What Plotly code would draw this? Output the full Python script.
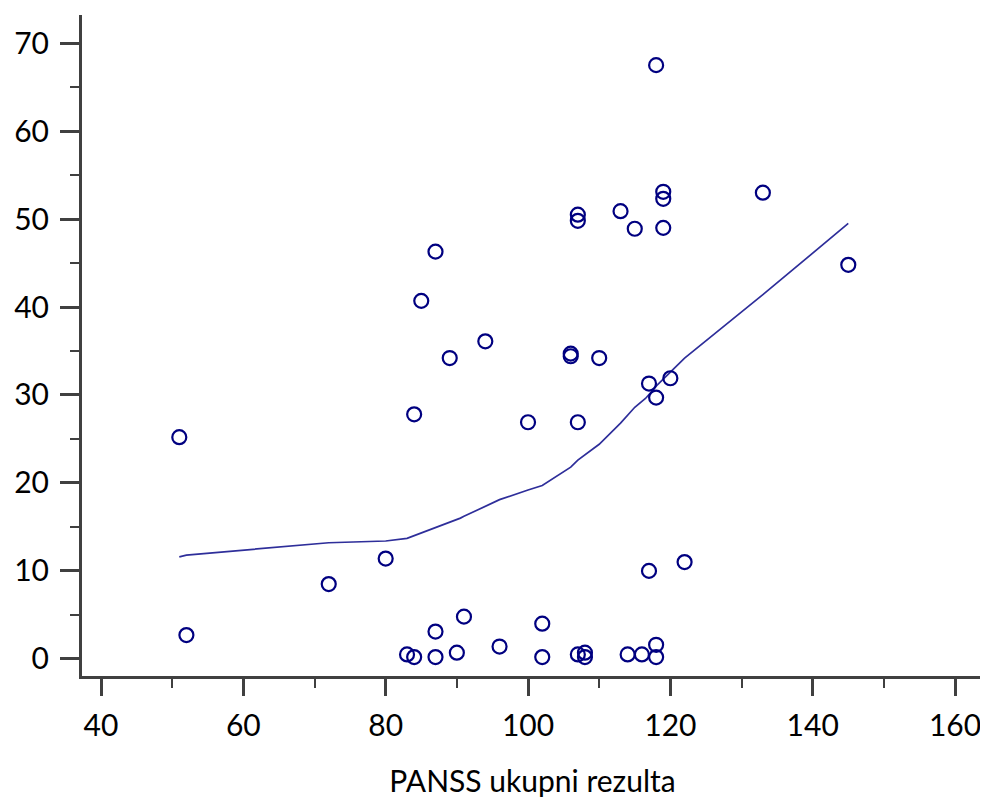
import plotly.graph_objects as go

# Scatter data (PANSS total score vs. outcome)
panss_x = [51, 52, 72, 80, 84, 85, 87, 89, 94, 100, 106, 106, 107, 107, 110, 107,
           113, 115, 117, 118, 119, 119, 119, 120, 118, 117, 122, 133, 145,
           83, 84, 87, 87, 90, 91, 96, 102, 102, 107, 108, 108, 114, 116, 118, 118]
score_y = [25.2, 2.7, 8.5, 11.4, 27.8, 40.7, 46.3, 34.2, 36.1, 26.9, 34.7, 34.4, 50.5, 49.8, 34.2, 26.9,
           50.9, 48.9, 31.3, 67.5, 53.1, 52.3, 49.0, 31.9, 29.7, 10.0, 11.0, 53.0, 44.8,
           0.5, 0.2, 3.1, 0.2, 0.7, 4.8, 1.4, 4.0, 0.2, 0.5, 0.7, 0.2, 0.5, 0.5, 1.6, 0.2]

# Smoothed (LOESS) fit line
fit_x = [51.0, 52.0, 72.0, 80.0, 83.0, 84.0, 87.0, 89.0, 90.5, 91.0, 96.0, 100.0, 102.0,
         106.0, 107.0, 110.0, 113.0, 115.0, 116.5, 117.5, 118.0, 120.0, 122.0, 133.0, 145.0]
fit_y = [11.6, 11.8, 13.2, 13.4, 13.7, 14.0, 14.9, 15.5, 16.0, 16.2, 18.1, 19.2, 19.7,
         21.8, 22.6, 24.4, 26.8, 28.6, 29.6, 30.5, 31.0, 32.6, 34.2, 41.4, 49.5]

x_ticks = [40, 60, 80, 100, 120, 140, 160]
y_ticks = [0, 10, 20, 30, 40, 50, 60, 70]

AXIS = "#404040"
FONT = "Lato, 'Open Sans', sans-serif"

fig = go.Figure()
fig.add_trace(go.Scatter(
    x=fit_x, y=fit_y, mode="lines",
    line=dict(color="#2e2e9a", width=1.7),
    showlegend=False, hoverinfo="skip"))
fig.add_trace(go.Scatter(
    x=panss_x, y=score_y, mode="markers",
    marker=dict(symbol="circle-open", size=14, color="#000080",
                line=dict(width=2.2, color="#000080")),
    showlegend=False))

# the page body adds an 8px offset; sizes/margins compensate for it
fig.update_layout(
    width=980, height=790,
    margin=dict(l=74, r=5, t=7, b=122),
    paper_bgcolor="white", plot_bgcolor="white",
    font=dict(family=FONT, size=30, color="black"),
    xaxis=dict(
        range=[37.33, 163.93], tickvals=x_ticks, ticktext=[str(v) for v in x_ticks],
        automargin=False,
        showgrid=False, zeroline=False,
        showline=True, linewidth=3, linecolor=AXIS,
        ticks="outside", ticklen=17, tickwidth=3, tickcolor=AXIS,
        ticklabelstandoff=4,
        minor=dict(dtick=10, tick0=40, ticks="outside", ticklen=9, tickwidth=2, tickcolor=AXIS, showgrid=False),
        tickfont=dict(size=30, color="black", family=FONT),
        title=dict(text="PANSS ukupni rezulta", font=dict(size=30, color="black", family=FONT), standoff=31),
    ),
    yaxis=dict(
        range=[-1.95, 73.2], tickvals=y_ticks, ticktext=[str(v) for v in y_ticks],
        automargin=False,
        showgrid=False, zeroline=False,
        showline=True, linewidth=3, linecolor=AXIS,
        ticks="outside", ticklen=19, tickwidth=3, tickcolor=AXIS,
        ticklabelstandoff=5,
        minor=dict(dtick=5, tick0=0, ticks="outside", ticklen=9, tickwidth=2, tickcolor=AXIS, showgrid=False),
        tickfont=dict(size=30, color="black", family=FONT),
    ),
)

fig.write_html("out.html")
